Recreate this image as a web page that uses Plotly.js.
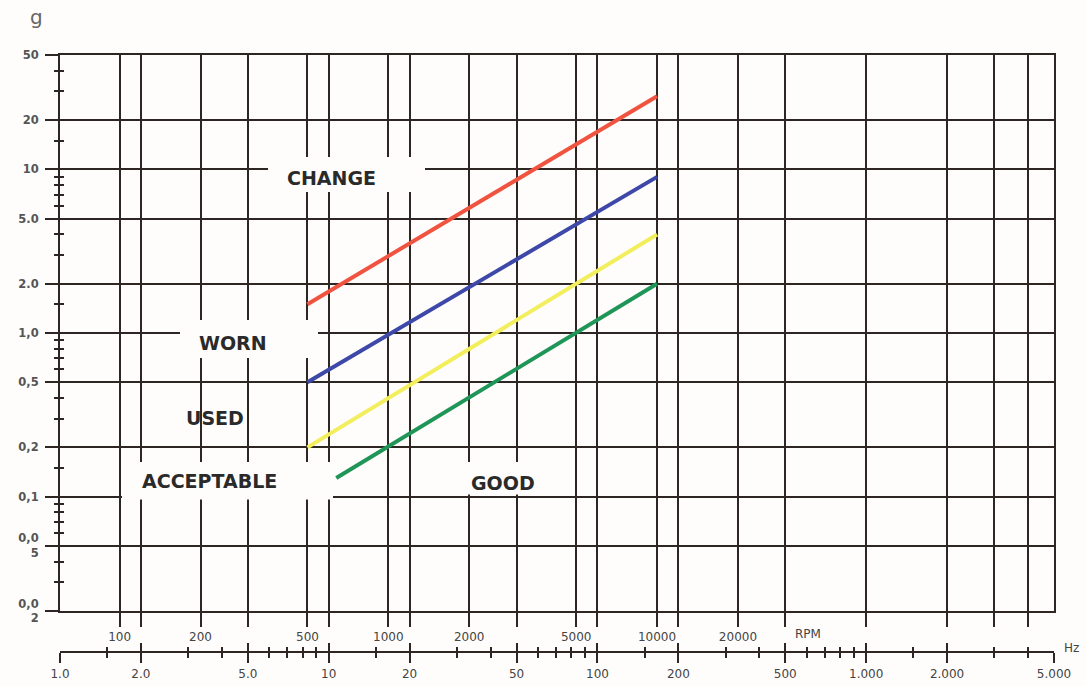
<!DOCTYPE html>
<html>
<head>
<meta charset="utf-8">
<script src="https://cdn.plot.ly/plotly-3.0.1.min.js"></script>
<style>html,body{margin:0;padding:0;background:#fffdfb;}#chart{width:1087px;height:686px;}</style>
</head>
<body>
<div id="chart"></div>
<script>
// ---- data ----
const rpmStart = [500, 10000];
const rpmGreen = [640, 10000];
const changeG = [1.5, 28];
const wornG = [0.5, 9];
const usedG = [0.2, 4];
const acceptableG = [0.13, 2.0];

const rpmGrid = [100, 200, 500, 1000, 2000, 5000, 10000, 20000];
const rpmLabels = ['100', '200', '500', '1000', '2000', '5000', '10000', '20000'];
const hzGrid = [2, 5, 10, 20, 50, 100, 200, 500, 1000, 2000, 3000, 4000];
const hzMajor = [1, 2, 5, 10, 20, 50, 100, 200, 500, 1000, 2000, 5000];
const hzLabels = ['1.0', '2.0', '5.0', '10', '20', '50', '100', '200', '500', '1.000', '2.000', '5.000'];
const hzMinor = [1.5, 3, 4, 6, 7, 8, 9, 15, 30, 40, 60, 70, 80, 90, 150, 300, 400, 600, 700, 800, 900, 1500, 3000, 4000];
const gMajor = [50, 20, 10, 5, 2, 1, 0.5, 0.2, 0.1, 0.05, 0.02];
const gLabels = ['50', '20', '10', '5.0', '2.0', '1,0', '0,5', '0,2', '0,1', '0,0<br>5', '0,0<br>2'];
const gMinor = [40, 30, 15, 9, 8, 7, 6, 4, 3, 1.5, 0.9, 0.8, 0.7, 0.6, 0.4, 0.3, 0.15, 0.09, 0.08, 0.07, 0.06, 0.04, 0.03];

// ---- geometry ----
const W = 1087, H = 686;
const M = {l: 60, r: 33, t: 55, b: 20};
const pw = W - M.l - M.r, ph = H - M.t - M.b;
const px = p => (p - M.l) / pw;
const py = p => (H - M.b - p) / ph;
const plotBottom = 611;

const GRID = '#2e2622';
const BG = '#fffdfb';
const toHz = r => r / 60;

// vertical grid: RPM positions (in Hz) + Hz positions
const gridVals = rpmGrid.map(toHz).concat(hzGrid);
const gridText = rpmLabels.concat(hzGrid.map(() => ''));

const xr = [0, Math.log10(5000)];
const yr = [Math.log10(0.02), Math.log10(50)];

function line(xs, ys, color) {
  return {x: xs.map(toHz), y: ys, type: 'scatter', mode: 'lines',
    line: {color: color, width: 4}, hoverinfo: 'skip', showlegend: false};
}
function axisHolder(xa, ya) {
  return {x: [], y: [], type: 'scatter', mode: 'markers', xaxis: xa, yaxis: ya,
    hoverinfo: 'skip', showlegend: false};
}

const traces = [
  line(rpmStart, changeG, '#f0533f'),
  line(rpmStart, wornG, '#3d48a8'),
  line(rpmStart, usedG, '#f2ee5c'),
  line(rpmGreen, acceptableG, '#1f9558'),
  axisHolder('x2', 'y'),
  axisHolder('x3', 'y'),
  axisHolder('x', 'y2')
];

const tickFont = {family: 'DejaVu Sans', size: 12, color: '#444'};
const labFont = {family: 'DejaVu Sans', size: 19, color: '#2a2a2a', weight: 'bold'};

function label(text, x, y, font) {
  return {text: text, xref: 'paper', yref: 'paper', x: px(x), y: py(y),
    xanchor: 'center', yanchor: 'middle', showarrow: false, font: font || labFont};
}
function gap(x0, x1, y0, y1) {
  return {type: 'rect', xref: 'paper', yref: 'paper', x0: px(x0), x1: px(x1), y0: py(y1), y1: py(y0),
    fillcolor: BG, line: {width: 0}, layer: 'above'};
}

const layout = {
  width: W, height: H,
  margin: M,
  paper_bgcolor: BG, plot_bgcolor: BG,
  showlegend: false,
  xaxis: {
    type: 'log', range: xr, domain: [0, 1], anchor: 'y',
    tickmode: 'array', tickvals: gridVals, ticktext: gridText,
    ticks: 'outside', ticklen: 14, tickwidth: 2, tickcolor: GRID,
    showgrid: true, gridcolor: GRID, gridwidth: 2,
    showline: true, linecolor: GRID, linewidth: 2, mirror: true,
    zeroline: false, tickfont: tickFont, ticklabelstandoff: 0
  },
  xaxis2: {
    type: 'log', range: xr, overlaying: 'x', anchor: 'free', position: py(652), side: 'bottom',
    tickmode: 'array', tickvals: hzMajor, ticktext: hzLabels,
    ticks: 'outside', ticklen: 10, tickwidth: 2, tickcolor: GRID,
    minor: {tickmode: 'array', tickvals: hzMinor, ticks: 'outside', ticklen: 5, tickwidth: 2, tickcolor: GRID, showgrid: false},
    showgrid: false, showline: true, linecolor: GRID, linewidth: 2, zeroline: false,
    tickfont: tickFont, ticklabelstandoff: 1
  },
  xaxis3: {
    type: 'log', range: xr, overlaying: 'x', anchor: 'free', position: py(652), side: 'bottom',
    tickmode: 'array', tickvals: hzMajor, showticklabels: false,
    ticks: 'inside', ticklen: 9, tickwidth: 2, tickcolor: GRID,
    minor: {tickmode: 'array', tickvals: hzMinor, ticks: 'inside', ticklen: 5, tickwidth: 2, tickcolor: GRID, showgrid: false},
    showgrid: false, showline: false, zeroline: false
  },
  yaxis: {
    type: 'log', range: yr, domain: [py(plotBottom), 1], anchor: 'x',
    tickmode: 'array', tickvals: gMajor, ticktext: gLabels,
    ticks: 'outside', ticklen: 13, tickwidth: 2, tickcolor: GRID,
    minor: {tickmode: 'array', tickvals: gMinor, ticks: 'outside', ticklen: 4, tickwidth: 2, tickcolor: GRID, showgrid: false},
    showgrid: true, gridcolor: GRID, gridwidth: 2,
    showline: true, linecolor: GRID, linewidth: 2, mirror: true,
    zeroline: false,
    tickfont: {family: 'DejaVu Sans', size: 11.5, color: '#555', weight: 'bold'}, ticklabelstandoff: 4
  },
  yaxis2: {
    type: 'log', range: yr, domain: [py(plotBottom), 1], overlaying: 'y', anchor: 'x', side: 'left',
    tickmode: 'array', tickvals: gMinor, showticklabels: false,
    ticks: 'inside', ticklen: 4, tickwidth: 2, tickcolor: GRID,
    showgrid: false, showline: false, zeroline: false
  },
  shapes: [
    // white gaps behind the zone labels
    gap(268, 425, 157, 192),
    gap(180, 318, 320, 358),
    gap(122, 333, 462, 499.5),
    gap(445, 560, 462, 494.5)
  ],
  annotations: [
    label('CHANGE', 331, 178),
    label('WORN', 233, 343),
    label('USED', 215, 418),
    label('ACCEPTABLE', 209, 481),
    label('GOOD', 503, 483),
    label('g', 36, 17, {family: 'DejaVu Sans', size: 20, color: '#666'}),
    label('RPM', 808, 634, tickFont),
    label('Hz', 1071, 648, tickFont)
  ]
};

Plotly.newPlot('chart', traces, layout, {displayModeBar: false, staticPlot: true});
</script>
</body>
</html>
